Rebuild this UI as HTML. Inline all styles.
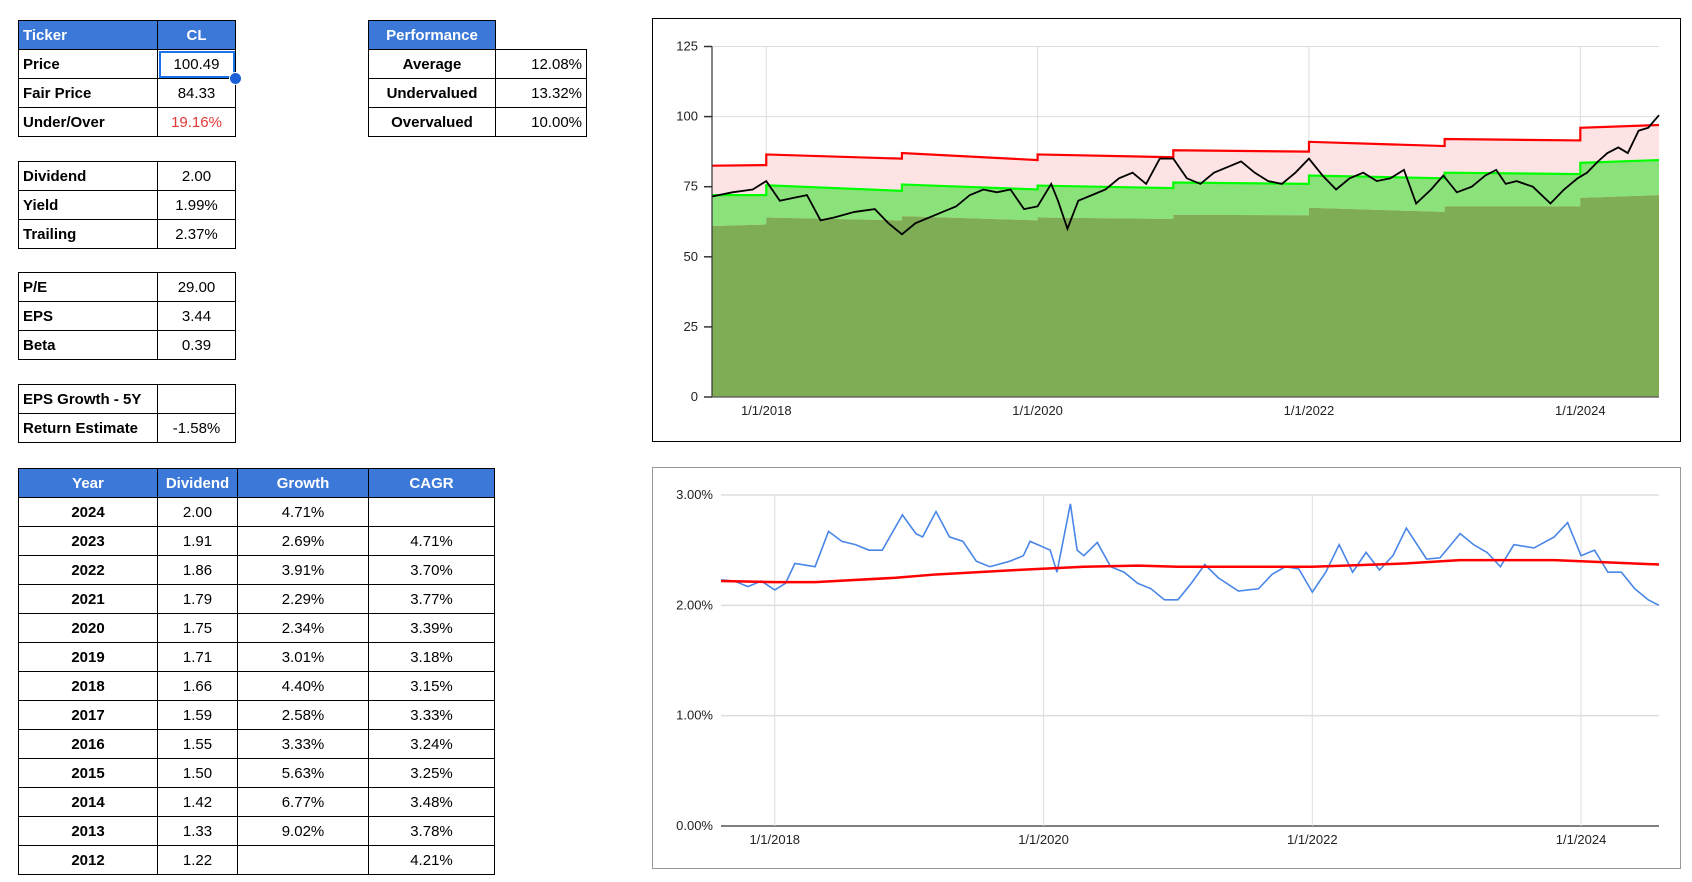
<!DOCTYPE html>
<html><head><meta charset="utf-8">
<style>
body{margin:0;width:1692px;height:882px;background:#fff;position:relative;overflow:hidden;font-family:"Liberation Sans",Arial,sans-serif;}
table{position:absolute;border-collapse:collapse;font-size:15px;color:#000;}
td{border:1.5px solid #000;height:26px;padding:0 4px;box-sizing:border-box;white-space:nowrap;}
td.h{background:#3c78d8;color:#fff;font-weight:bold;}
td.l{font-weight:bold;text-align:left;}
td.c{text-align:center;}
td.r{text-align:right;}
td.b{font-weight:bold;text-align:center;}
.box{position:absolute;border:1px solid #000;background:#fff;}
svg text{font-family:"Liberation Sans",Arial,sans-serif;font-size:13px;fill:#222;}
</style></head><body>

<table style="left:18px;top:20px;width:218px;">
<tr style="height:29px"><td class="h" style="width:139px">Ticker</td><td class="h c">CL</td></tr>
<tr style="height:29px"><td class="l">Price</td><td class="c" style="outline:2px solid #1a73e8;outline-offset:-3px">100.49</td></tr>
<tr style="height:29px"><td class="l">Fair Price</td><td class="c">84.33</td></tr>
<tr style="height:29px"><td class="l">Under/Over</td><td class="c" style="color:#e53935">19.16%</td></tr>
</table>
<div style="position:absolute;left:229px;top:72px;width:11px;height:11px;border-radius:50%;background:#1a5fd8;border:1px solid #fff"></div>

<table style="left:368px;top:20px;width:219px;">
<tr style="height:29px"><td class="h c" style="width:127px">Performance</td><td style="border:none;border-bottom:1.5px solid #000"></td></tr>
<tr style="height:29px"><td class="b">Average</td><td class="r">12.08%</td></tr>
<tr style="height:29px"><td class="b">Undervalued</td><td class="r">13.32%</td></tr>
<tr style="height:29px"><td class="b">Overvalued</td><td class="r">10.00%</td></tr>
</table>

<table style="left:18px;top:161px;width:218px;">
<tr style="height:29px"><td class="l" style="width:139px">Dividend</td><td class="c">2.00</td></tr>
<tr style="height:29px"><td class="l">Yield</td><td class="c">1.99%</td></tr>
<tr style="height:29px"><td class="l">Trailing</td><td class="c">2.37%</td></tr>
</table>

<table style="left:18px;top:272px;width:218px;">
<tr style="height:29px"><td class="l" style="width:139px">P/E</td><td class="c">29.00</td></tr>
<tr style="height:29px"><td class="l">EPS</td><td class="c">3.44</td></tr>
<tr style="height:29px"><td class="l">Beta</td><td class="c">0.39</td></tr>
</table>

<table style="left:18px;top:384px;width:218px;">
<tr style="height:29px"><td class="l" style="width:139px">EPS Growth - 5Y</td><td class="c"></td></tr>
<tr style="height:29px"><td class="l">Return Estimate</td><td class="c">-1.58%</td></tr>
</table>

<table style="left:18px;top:468px;width:477px;">
<tr style="height:29px"><td class="h c" style="width:139px">Year</td><td class="h c" style="width:80px">Dividend</td><td class="h c" style="width:131px">Growth</td><td class="h c">CAGR</td></tr>
<tr style="height:29px"><td class="b">2024</td><td class="c">2.00</td><td class="c">4.71%</td><td class="c"></td></tr>
<tr style="height:29px"><td class="b">2023</td><td class="c">1.91</td><td class="c">2.69%</td><td class="c">4.71%</td></tr>
<tr style="height:29px"><td class="b">2022</td><td class="c">1.86</td><td class="c">3.91%</td><td class="c">3.70%</td></tr>
<tr style="height:29px"><td class="b">2021</td><td class="c">1.79</td><td class="c">2.29%</td><td class="c">3.77%</td></tr>
<tr style="height:29px"><td class="b">2020</td><td class="c">1.75</td><td class="c">2.34%</td><td class="c">3.39%</td></tr>
<tr style="height:29px"><td class="b">2019</td><td class="c">1.71</td><td class="c">3.01%</td><td class="c">3.18%</td></tr>
<tr style="height:29px"><td class="b">2018</td><td class="c">1.66</td><td class="c">4.40%</td><td class="c">3.15%</td></tr>
<tr style="height:29px"><td class="b">2017</td><td class="c">1.59</td><td class="c">2.58%</td><td class="c">3.33%</td></tr>
<tr style="height:29px"><td class="b">2016</td><td class="c">1.55</td><td class="c">3.33%</td><td class="c">3.24%</td></tr>
<tr style="height:29px"><td class="b">2015</td><td class="c">1.50</td><td class="c">5.63%</td><td class="c">3.25%</td></tr>
<tr style="height:29px"><td class="b">2014</td><td class="c">1.42</td><td class="c">6.77%</td><td class="c">3.48%</td></tr>
<tr style="height:29px"><td class="b">2013</td><td class="c">1.33</td><td class="c">9.02%</td><td class="c">3.78%</td></tr>
<tr style="height:29px"><td class="b">2012</td><td class="c">1.22</td><td class="c"></td><td class="c">4.21%</td></tr>
</table>

<div class="box" style="left:652px;top:18px;width:1027px;height:422px;"></div>
<svg id="c1" style="position:absolute;left:0;top:0" width="1692" height="882"></svg>
<div class="box" style="left:652px;top:467px;width:1027px;height:400px;border-color:#999"></div>
<svg id="c2" style="position:absolute;left:0;top:0" width="1692" height="882"></svg>

<script>
// ---- Chart 1 data ----
const priceYears=[2017.6,2017.75,2017.9,2018.0,2018.1,2018.2,2018.3,2018.4,2018.5,2018.65,2018.8,2018.9,2019.0,2019.1,2019.2,2019.3,2019.4,2019.5,2019.6,2019.7,2019.8,2019.9,2020.0,2020.1,2020.15,2020.22,2020.3,2020.4,2020.5,2020.6,2020.7,2020.8,2020.9,2021.0,2021.1,2021.2,2021.3,2021.4,2021.5,2021.6,2021.7,2021.8,2021.9,2022.0,2022.1,2022.2,2022.3,2022.4,2022.5,2022.6,2022.7,2022.79,2022.9,2022.99,2023.09,2023.2,2023.3,2023.38,2023.45,2023.53,2023.65,2023.78,2023.88,2023.98,2024.05,2024.13,2024.2,2024.28,2024.35,2024.43,2024.5,2024.58];
const priceValues=[71.5,73,74,77,70,71,72,63,64,66,67,62,58,62,64,66,68,72,74,73,74,67,68,76,70,60,70,72,74,78,80,76,85,85,78,76,80,82,84,80,77,76,80,85,79,74,78,80,77,78,81,69,74,79,73,75,79,81,76,77,75,69,74,78,80,84,87,89,87,95,96,100.5];
const bandYears=[2017.6,2018.0,2019.0,2020.0,2021.0,2022.0,2023.0,2024.0,2024.58];
const upperStart=[82.5,86.5,87,86.5,88,91,92,96];
const upperEnd=[82.7,85,84.5,85.5,87.5,89.5,91.5,97];
const midStart=[72,75.5,75.8,75.4,76.5,79,80,83.5];
const midEnd=[72,73.5,74,74.5,76,78,79.5,84.5];
const lowStart=[61,64,64.5,64,65,67.5,68,71];
const lowEnd=[61.5,63,63,63.5,64.8,66,68,72];
const yTicks1=[0,25,50,75,100,125];
const xTickYears=[2018,2020,2022,2024];
const xTickLabels=["1/1/2018","1/1/2020","1/1/2022","1/1/2024"];
// ---- Chart 2 data ----
const yieldYears=[2017.6,2017.7,2017.8,2017.9,2018.0,2018.08,2018.15,2018.3,2018.4,2018.5,2018.6,2018.7,2018.8,2018.95,2019.05,2019.1,2019.2,2019.3,2019.4,2019.5,2019.6,2019.75,2019.85,2019.9,2020.05,2020.1,2020.2,2020.25,2020.3,2020.4,2020.5,2020.6,2020.7,2020.8,2020.9,2021.0,2021.1,2021.2,2021.3,2021.45,2021.6,2021.7,2021.8,2021.9,2022.0,2022.1,2022.2,2022.3,2022.4,2022.5,2022.6,2022.7,2022.85,2022.95,2023.1,2023.2,2023.3,2023.4,2023.5,2023.65,2023.8,2023.9,2024.0,2024.1,2024.2,2024.3,2024.4,2024.5,2024.58];
const yieldValues=[2.23,2.22,2.17,2.22,2.14,2.2,2.38,2.35,2.67,2.58,2.55,2.5,2.5,2.82,2.65,2.62,2.85,2.62,2.58,2.4,2.35,2.4,2.45,2.58,2.5,2.3,2.92,2.5,2.45,2.57,2.35,2.3,2.2,2.15,2.05,2.05,2.2,2.37,2.25,2.13,2.15,2.28,2.35,2.33,2.12,2.3,2.55,2.3,2.48,2.32,2.45,2.7,2.42,2.43,2.65,2.55,2.48,2.35,2.55,2.52,2.62,2.75,2.45,2.5,2.3,2.3,2.15,2.05,2.0];
const avgYears=[2017.6,2018.0,2018.3,2018.9,2019.2,2019.8,2020.3,2020.7,2021.0,2021.5,2022.0,2022.7,2023.1,2023.8,2024.0,2024.58];
const avgValues=[2.22,2.21,2.21,2.25,2.28,2.32,2.35,2.36,2.35,2.35,2.35,2.38,2.41,2.41,2.40,2.37];
const yTicks2=[0,1,2,3];
const yTickLabels2=["0.00%","1.00%","2.00%","3.00%"];

const NS="http://www.w3.org/2000/svg";
function el(svg,tag,attrs){const e=document.createElementNS(NS,tag);for(const k in attrs)e.setAttribute(k,attrs[k]);svg.appendChild(e);return e;}

// Chart 1
(function(){
const svg=document.getElementById('c1');
const L=712,R=1659,T=46.5,B=397,x0=2017.6,x1=2024.58;
const X=v=>L+(v-x0)/(x1-x0)*(R-L);
const Y=v=>B-(v/125)*(B-T);
yTicks1.forEach(t=>{
 const g=el(svg,'line',{x1:L,x2:R,y1:Y(t),y2:Y(t),stroke:'#ddd','stroke-width':1});
 
 
 const tk=el(svg,'line',{x1:L-8,x2:L,y1:Y(t),y2:Y(t),stroke:'#333','stroke-width':1.5});
 
 
 const tx=el(svg,'text',{x:L-14,y:Y(t)+4,'text-anchor':'end'});tx.textContent=t;
 
 
});
xTickYears.forEach((yr,i)=>{
 const g=el(svg,'line',{x1:X(yr),x2:X(yr),y1:T,y2:B,stroke:'#ddd','stroke-width':1});
 
 
 const tx=el(svg,'text',{x:X(yr),y:B+18,'text-anchor':'middle'});tx.textContent=xTickLabels[i];
 
 
});
function band(s,e){const p=[];for(let i=0;i<s.length;i++){p.push([X(bandYears[i]),Y(s[i])]);p.push([X(bandYears[i+1]),Y(e[i])]);}return p;}
const up=band(upperStart,upperEnd),mid=band(midStart,midEnd),low=band(lowStart,lowEnd);
const pts=a=>a.map(p=>p.join(',')).join(' ');
const rev=a=>a.slice().reverse();
let a=el(svg,'polygon',{points:pts(up)+' '+pts(rev(mid)),fill:'#fde3e3'});


a=el(svg,'polygon',{points:pts(mid)+' '+pts(rev(low)),fill:'#8ce27a'});


a=el(svg,'polygon',{points:pts(low)+` ${X(bandYears[bandYears.length-1])},${B} ${X(bandYears[0])},${B}`,fill:'#7fad55'});


a=el(svg,'polyline',{points:pts(up),fill:'none',stroke:'#f00','stroke-width':2.2});


a=el(svg,'polyline',{points:pts(mid),fill:'none',stroke:'#0f0','stroke-width':2.2});


a=el(svg,'polyline',{points:priceYears.map((y,i)=>X(y)+','+Y(priceValues[i])).join(' '),fill:'none',stroke:'#000','stroke-width':1.8});


a=el(svg,'line',{x1:L,x2:L,y1:T,y2:B,stroke:'#333','stroke-width':1.2});


a=el(svg,'line',{x1:L,x2:R,y1:B,y2:B,stroke:'#555','stroke-width':1.2});


})();

// Chart 2
(function(){
const svg=document.getElementById('c2');
const L=721,R=1659,T=495,B=826,x0=2017.6,x1=2024.58;
const X=v=>L+(v-x0)/(x1-x0)*(R-L);
const Y=v=>B-(v/3)*(B-T);
yTicks2.forEach((t,i)=>{
 const g=el(svg,'line',{x1:L,x2:R,y1:Y(t),y2:Y(t),stroke:t===0?'#555':'#ddd','stroke-width':t===0?1.5:1.5});
 
 
 const tx=el(svg,'text',{x:L-8,y:Y(t)+4,'text-anchor':'end'});tx.textContent=yTickLabels2[i];
 
 
});
xTickYears.forEach((yr,i)=>{
 const g=el(svg,'line',{x1:X(yr),x2:X(yr),y1:T,y2:B,stroke:'#ddd','stroke-width':1});
 
 
 const tx=el(svg,'text',{x:X(yr),y:B+18,'text-anchor':'middle'});tx.textContent=xTickLabels[i];
 
 
});
let a=el(svg,'polyline',{points:yieldYears.map((y,i)=>X(y)+','+Y(yieldValues[i])).join(' '),fill:'none',stroke:'#4a86e8','stroke-width':1.6});


a=el(svg,'polyline',{points:avgYears.map((y,i)=>X(y)+','+Y(avgValues[i])).join(' '),fill:'none',stroke:'#f00','stroke-width':2.5,'stroke-linejoin':'round'});


})();
</script>
</body></html>
